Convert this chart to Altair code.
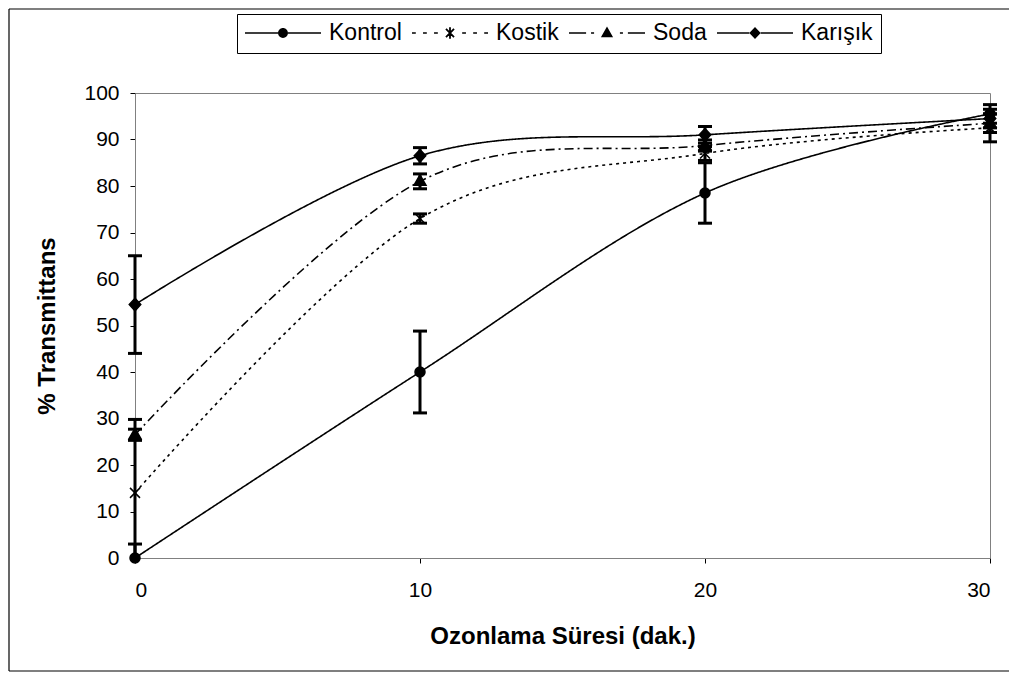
import math
import altair as alt
import pandas as pd

# ---------------- data ----------------
times = [0, 10, 20, 30]
series = ["Kontrol", "Kostik", "Soda", "Karışık"]
kontrol = [0.0, 40.0, 78.5, 95.5]
kontrol_err = [3.0, 8.8, 6.5, 2.0]
kostik = [14.0, 73.0, 87.0, 92.5]
kostik_err = [15.8, 1.0, 1.5, 3.0]
soda = [26.5, 81.0, 88.7, 93.5]
soda_err = [1.2, 1.6, 1.2, 2.0]
karisik = [54.5, 86.5, 91.0, 94.5]
karisik_err = [10.5, 1.75, 1.8, 2.0]

x_ticks = [0, 10, 20, 30]
y_ticks = [0, 10, 20, 30, 40, 50, 60, 70, 80, 90, 100]
x_title = "Ozonlama Süresi (dak.)"
y_title = "% Transmittans"

values = {"Kontrol": kontrol, "Kostik": kostik, "Soda": soda, "Karışık": karisik}
errors = {"Kontrol": kontrol_err, "Kostik": kostik_err, "Soda": soda_err, "Karışık": karisik_err}

rows = []
for s in series:
    for t, v, e in zip(times, values[s], errors[s]):
        rows.append({"series": s, "t": t, "v": v, "lo": max(v - e, 0.0), "hi": v + e,
                     "lo_raw": v - e})
df = pd.DataFrame(rows)

caps_rows = []
for r in rows:
    for c in (r["lo_raw"], r["hi"]):
        if c >= 0:
            caps_rows.append({"series": r["series"], "t": r["t"], "c": c})
caps = pd.DataFrame(caps_rows)

FONT = "Liberation Sans, Arial"
W, H = 855, 465

# ---------------- styles ----------------
dash_range = [[1, 0], [3, 4], [9, 4, 2, 4], [1, 0]]

marker_paths = [
    "circle",
    "M-1,-1L1,1M-1,1L1,-1M0,-1.1L0,1.1",
    "M0,-1.3L1.2,0.8L-1.2,0.8Z",
    "M0,-1.25L1.15,0L0,1.25L-1.15,0Z",
]

# legend symbols: filled-only paths (1 unit = 38 px)
hh = 0.021  # half line thickness


def rect(a, b, h=hh):
    return f"M{a:.3f},{-h:.3f}L{b:.3f},{-h:.3f}L{b:.3f},{h:.3f}L{a:.3f},{h:.3f}Z"


def rot_rect(deg, L, h=0.024):
    c, s = math.cos(math.radians(deg)), math.sin(math.radians(deg))
    pts = [(-L, -h), (L, -h), (L, h), (-L, h)]
    p = [(x * c - y * s, x * s + y * c) for x, y in pts]
    return "M" + "L".join(f"{x:.3f},{y:.3f}" for x, y in p) + "Z"


def mirror(segs):
    return "".join(rect(a, b) + rect(-b, -a) for a, b in segs)


rc = 0.13
circ = f"M{-rc},0A{rc},{rc},0,1,1,{rc},0A{rc},{rc},0,1,1,{-rc},0Z"
star = rot_rect(45, 0.15) + rot_rect(-45, 0.15) + rot_rect(90, 0.15)
tri = "M0,-0.17L0.16,0.11L-0.16,0.11Z"
dia = "M0,-0.16L0.15,0L0,0.16L-0.15,0Z"
legend_paths = [
    mirror([(-1, -rc)]) + circ,
    mirror([(-1, -0.9), (-0.71, -0.61), (-0.42, -0.32)]) + star,
    mirror([(-1, -0.55), (-0.42, -0.34)]) + tri,
    mirror([(-1, -0.15)]) + dia,
]

xs = alt.Scale(domain=[0, 30], nice=False, zero=False)
ys = alt.Scale(domain=[0, 100], nice=False)
X = alt.X("t:Q", scale=xs,
          axis=alt.Axis(values=x_ticks, title=x_title, labelPadding=16, titlePadding=24,
                        format="d"))
Y = alt.Y("v:Q", scale=ys,
          axis=alt.Axis(values=y_ticks, title=y_title, labelPadding=11, titlePadding=24,
                        format="d"))

base = alt.Chart(df)

lines = base.mark_line(interpolate="cardinal", color="black", strokeWidth=1.6).encode(
    x=X, y=Y,
    strokeDash=alt.StrokeDash("series:N", scale=alt.Scale(domain=series, range=dash_range),
                              legend=None),
    detail="series:N",
)

bars = base.mark_rule(color="black", strokeWidth=3).encode(
    x="t:Q", y="lo:Q", y2="hi:Q"
)

ticks = alt.Chart(caps).mark_tick(color="black", thickness=3, size=14, orient="horizontal",
                                  opacity=1).encode(x="t:Q", y="c:Q")

points = base.mark_point(filled=True, size=100, color="black", fill="black", stroke="black",
                         strokeWidth=1.5, opacity=1).encode(
    x="t:Q", y="v:Q",
    shape=alt.Shape("series:N", scale=alt.Scale(domain=series, range=marker_paths), legend=None),
)

legend_layer = base.transform_filter("datum.t < 0").mark_point(
    filled=True, color="black", fill="black", opacity=1, size=5776).encode(
    x="t:Q", y="v:Q",
    shape=alt.Shape("series:N", scale=alt.Scale(domain=series, range=legend_paths),
                    legend=alt.Legend(title=None, orient="none", legendX=102, legendY=-79,
                                      direction="horizontal", strokeColor="black",
                                      fillColor="white", padding=8, clipHeight=22,
                                      labelFont=FONT, labelFontSize=23, labelColor="black",
                                      labelOffset=8, columnPadding=10,
                                      symbolSize=5776, symbolStrokeWidth=0,
                                      symbolFillColor="black", symbolOpacity=1)),
)

one = alt.Chart(pd.DataFrame({"k": [0]}))
frame_left = one.mark_rule(color="black", strokeWidth=1.2).encode(
    x=alt.value(-126), y=alt.value(-84), y2=alt.value(578))
frame_top = one.mark_rule(color="black", strokeWidth=1.2).encode(
    x=alt.value(-126), x2=alt.value(874), y=alt.value(-84))
frame_bottom = one.mark_rule(color="black", strokeWidth=1.2).encode(
    x=alt.value(-126), x2=alt.value(874), y=alt.value(578))

chart = alt.layer(
    frame_left, frame_top, frame_bottom, lines, bars, ticks, points, legend_layer
).resolve_scale(shape="independent").properties(
    width=W, height=H, padding=0, background="white"
).configure_view(
    stroke="#808080", strokeWidth=1
).configure_axis(
    grid=False, domainColor="#808080", domainWidth=1, tickColor="black", tickSize=5,
    labelFont=FONT, labelFontSize=21, labelColor="black",
    titleFont=FONT, titleFontSize=24, titleFontWeight="bold", titleColor="black",
)

chart.save("out.html", embed_options={"renderer": "svg", "actions": False})
